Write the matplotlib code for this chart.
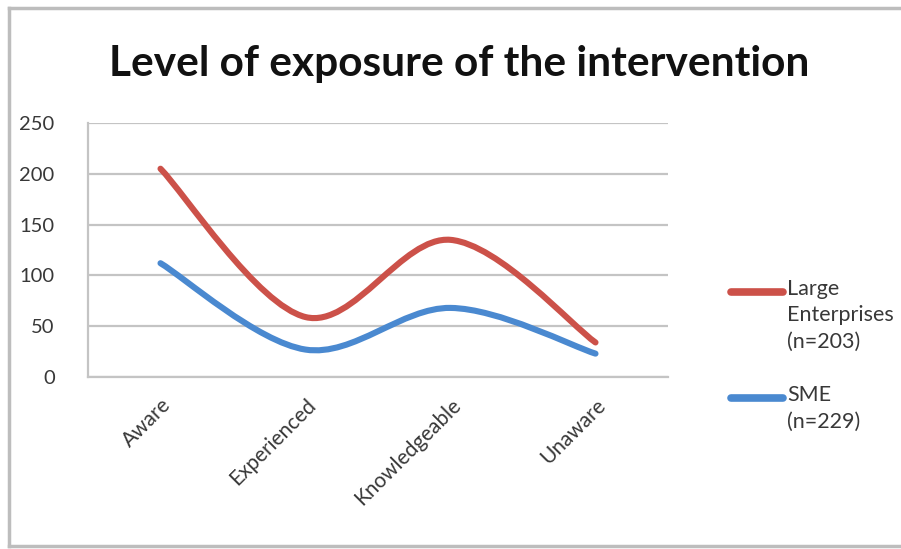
import matplotlib.pyplot as plt
import numpy as np
from matplotlib.path import Path
from matplotlib.patches import PathPatch
from matplotlib.lines import Line2D

categories = ['Aware', 'Experienced', 'Knowledgeable', 'Unaware']
large = [205, 59, 135, 34]
sme = [112, 27, 68, 23]
series_labels = ['Large\nEnterprises\n(n=203)', 'SME\n(n=229)']
colors = ['#cc5149', '#4a89d0']


def smooth_path(xs, ys):
    # Excel-style smoothed line: cubic Bezier through each point
    pts = np.column_stack([xs, ys]).astype(float)
    n = len(pts)
    verts = [pts[0]]
    codes = [Path.MOVETO]
    for i in range(n - 1):
        p0 = pts[i - 1] if i > 0 else pts[i]
        p1 = pts[i]
        p2 = pts[i + 1]
        p3 = pts[i + 2] if i + 2 < n else pts[i + 1]
        c1 = p1 + (p2 - p0) / 6
        c2 = p2 - (p3 - p1) / 6
        verts += [c1, c2, p2]
        codes += [Path.CURVE4] * 3
    return Path(verts, codes)


plt.rcParams['font.family'] = ['Lato', 'DejaVu Sans']
fig = plt.figure(figsize=(9.01, 5.49), dpi=100)
ax = fig.add_axes([88 / 901, 1 - 377 / 549, 580 / 901, 254 / 549])

x = np.arange(len(categories))
for vals, col in zip([large, sme], colors):
    patch = PathPatch(smooth_path(x, vals), facecolor='none', edgecolor=col,
                      lw=4.4, capstyle='round', joinstyle='round', zorder=3)
    ax.add_patch(patch)

ax.set_xlim(-0.5, 3.5)
ax.set_ylim(0, 250)
ax.set_yticks(np.arange(0, 251, 50))
ax.yaxis.grid(True, color='#c4c4c4', lw=1.6)
ax.set_axisbelow(True)
for s in ['top', 'right']:
    ax.spines[s].set_visible(False)
ax.spines['left'].set_color('#c4c4c4')
ax.spines['left'].set_linewidth(1.6)
ax.spines['bottom'].set_color('#c4c4c4')
ax.spines['bottom'].set_linewidth(1.6)
ax.tick_params(axis='y', length=0, labelsize=14.5, colors='#383838', pad=24)
ax.tick_params(axis='x', length=0, labelsize=15, colors='#383838', pad=13)
ax.set_xticks(x)
ax.set_xticklabels(categories, rotation=45, ha='right', va='top',
                   rotation_mode='anchor')

fig.text(459 / 901, 1 - 64 / 549, 'Level of exposure of the intervention',
         ha='center', va='center', fontsize=30.5, fontweight='bold', color='#111111')

# legend drawn by hand so the key line sits on the first text line
leg_y = [1 - 292 / 549, 1 - 398 / 549]
for lab, col, y in zip(series_labels, colors, leg_y):
    fig.add_artist(Line2D([731 / 901, 783 / 901], [y, y], color=col, lw=5.5,
                          solid_capstyle='round'))
    fig.text(787 / 901, y + 13 / 549, lab, ha='left', va='top', fontsize=15.5,
             color='#383838', linespacing=1.4)

# chart frame: left, top and bottom edges (right edge runs off the canvas)
left, top, bottom = 9 / 901, 1 - 8 / 549, 3 / 549
for xs, ys in [([left, left], [bottom, top]),
               ([left, 1.0], [top, top]),
               ([left, 1.0], [bottom, bottom])]:
    fig.add_artist(Line2D(xs, ys, color='#bdbdbd', lw=2.5))

fig.savefig('out.png', dpi=100)
